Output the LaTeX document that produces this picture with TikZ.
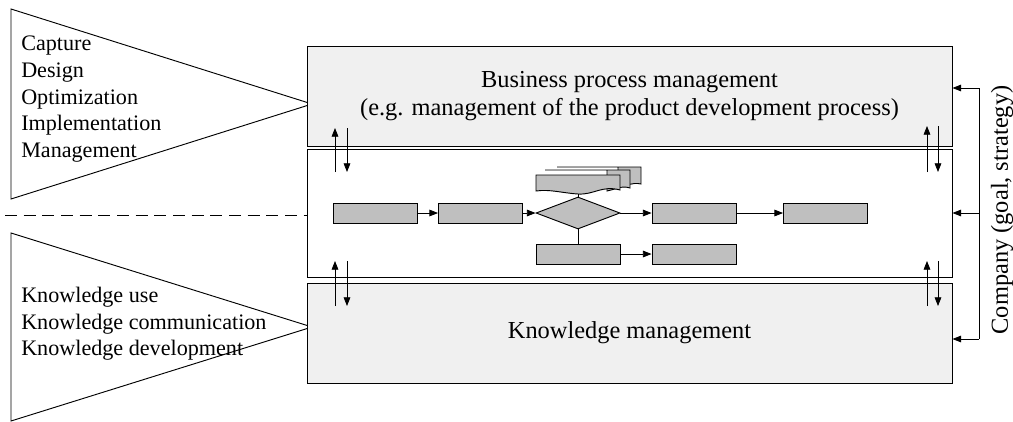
\documentclass[tikz,border=0pt]{standalone}
\usepackage{fontspec}
\setmainfont{Liberation Serif}
\usetikzlibrary{arrows.meta,shapes.geometric}

\tikzset{
  arr/.style={-{Triangle[length=6.5pt,width=5pt]}, line width=0.6pt},
  bigbox/.style={draw, line width=0.75pt, inner sep=0pt, minimum width=483.75pt, font=\fontsize{18.3}{21}\selectfont},
  flowbox/.style={draw, line width=0.7pt, fill=gray!50, inner sep=0pt, minimum width=63pt, minimum height=15pt},
  doc/.style={draw, line width=0.7pt, fill=gray!50},
  lbl/.style={font=\fontsize{16.6}{20}\selectfont, inner sep=0pt}
}

\begin{document}
\begin{tikzpicture}[x=0.75pt, y=-0.75pt]
\useasboundingbox (0,0) rectangle (1013,421);

%% Triangles on the left side
\draw[line width=0.7pt] (11,9) -- (312,104) -- (11,199) -- cycle;
\draw[line width=0.7pt] (11,233) -- (312,327) -- (11,421) -- cycle;
\node[lbl, align=left, anchor=north west] (tasks) at (21,36) {Capture\\Design\\Optimization\\Implementation\\Management};
\node[lbl, align=left, anchor=north west] (kmtasks) at (21,287) {Knowledge use\\Knowledge communication\\Knowledge development};

% The three layers
\node[bigbox, fill=black!6, minimum height=75pt, align=center] (bpm) at (629.5,96)
  {Business process management\\(e.g. management of the product development process)};
\node[bigbox, fill=white, minimum height=96pt] (mid) at (629.5,213) {};
\node[bigbox, fill=black!6, minimum height=75pt] (km) at (629.5,333) {Knowledge management};

% dashed line into the process layer
\coordinate (dash0) at (5,215);
\draw[line width=0.7pt, dash pattern=on 9pt off 5pt] (dash0) -- (mid.west |- dash0);

% Process chart
\node[flowbox] (r1) at (375,213) {};
\node[flowbox] (r2) at (480.5,213) {};
\node[draw, diamond, line width=0.7pt, fill=gray!50, inner sep=0pt, minimum width=63pt, minimum height=24pt] (dia) at (578,213) {};
\node[flowbox] (r3) at (578,254) {};
\node[flowbox] (r4) at (694,213) {};
\node[flowbox] (r5) at (825.5,213) {};
\node[flowbox] (r6) at (694,254) {};

% stacked documents
\draw[doc] (557,167) -- (641,167) -- (641,184) .. controls (632,182) and (626,186) .. (618,187) -- (618,167) -- cycle;
\draw[doc] (545,170) -- (630,170) -- (630,188) .. controls (621,185) and (614,190) .. (607,191) -- (607,170) -- cycle;
\draw[doc] (536,175) -- (620,175) -- (620,190) .. controls (602,185) and (594,195) .. (578,194) .. controls (562,193) and (550,189) .. (536,191) -- cycle;
\coordinate (docb) at (578,194);

\draw[line width=0.7pt] (dia.north) -- (docb);
\draw[line width=0.7pt] (dia.south) -- (r3.north);
\draw[arr] (r1) -- (r2);
\draw[arr] (r2) -- (dia);
\draw[arr] (dia) -- (r4);
\draw[arr] (r4) -- (r5);
\draw[arr] (r3) -- (r6);

% Arrows between the layers
\coordinate (tl1) at (335,128);
\coordinate (tl2) at (335,172);
\coordinate (tl3) at (347,128);
\coordinate (tl4) at (347,172);
\coordinate (tr1) at (927,126);
\coordinate (tr2) at (927,172);
\coordinate (tr3) at (938,126);
\coordinate (tr4) at (938,172);
\coordinate (bl1) at (335,261);
\coordinate (bl2) at (335,306);
\coordinate (bl3) at (347,261);
\coordinate (bl4) at (347,306);
\coordinate (br1) at (927,261);
\coordinate (br2) at (927,306);
\coordinate (br3) at (938,261);
\coordinate (br4) at (938,306);
\draw[arr] (tl2) -- (tl1);
\draw[arr] (tl3) -- (tl4);
\draw[arr] (tr2) -- (tr1);
\draw[arr] (tr3) -- (tr4);
\draw[arr] (bl2) -- (bl1);
\draw[arr] (bl3) -- (bl4);
\draw[arr] (br2) -- (br1);
\draw[arr] (br3) -- (br4);

% Company on the right
\node[lbl, rotate=90, font=\fontsize{18.3}{21}\selectfont] (comp) at (1002,210) {Company (goal, strategy)};
\coordinate (brk1) at (979,88);
\coordinate (brk2) at (979,213);
\coordinate (brk3) at (979,339);
\draw[line width=0.7pt] (brk1) -- (brk3);
\draw[arr] (brk1) -- (bpm.east |- brk1);
\draw[arr] (brk2) -- (mid.east |- brk2);
\draw[arr] (brk3) -- (km.east |- brk3);

\end{tikzpicture}
\end{document}
